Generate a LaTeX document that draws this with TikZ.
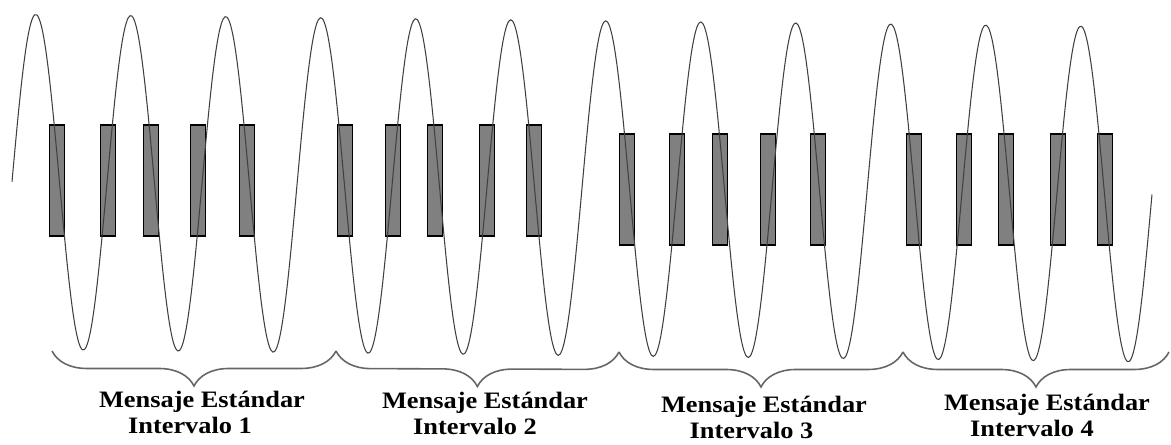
\documentclass[tikz,border=0pt]{standalone}
\usepackage{fontspec}
\setmainfont{Liberation Serif}
\newfontfamily\lblfont{Liberation Serif}[FakeStretch=1.12]
\usepackage{tikz}
\usetikzlibrary{decorations.pathreplacing, positioning}

\begin{document}
\begin{tikzpicture}[x=0.02cm, y=-0.02cm,
    bar/.style={draw=black, fill=gray, line width=0.6pt, minimum width=0.29cm, minimum height=2.22cm, inner sep=0pt},
    wave/.style={black!75, line width=0.6pt},
    brc/.style={decorate, decoration={brace, mirror, amplitude=0.7cm}, black!60, line width=0.9pt},
    lbl/.style={align=center, anchor=north, inner sep=0pt, font=\lblfont\bfseries\fontsize{13.4}{14.8}\selectfont}
]
    \useasboundingbox (0,0) rectangle (1171,445);

    % Pulses
    \foreach \i/\x in {1/57, 2/108, 3/151, 4/198, 5/247}
        \node[bar] (a\i) at (\x, 180.5) {};
    \foreach \i/\x in {1/345, 2/393, 3/435, 4/487, 5/534}
        \node[bar] (b\i) at (\x, 180.5) {};
    \foreach \i/\x in {1/627, 2/677, 3/720, 4/768, 5/818}
        \node[bar] (c\i) at (\x, 189.5) {};
    \foreach \i/\x in {1/914, 2/964, 3/1006, 4/1058, 5/1105}
        \node[bar] (d\i) at (\x, 189.5) {};

    % Carrier
    \draw[wave] plot[domain=12:1152, samples=600, smooth]
        (\x, {182+0.0112*(\x-37)-167.5*sin(3.78947*(\x-12))});

    % Braces
    \coordinate (e0) at (52, 351);
    \coordinate (e1) at (336, 351);
    \coordinate (e2) at (619, 352);
    \coordinate (e3) at (903, 352);
    \coordinate (e4) at (1169, 352);
    \draw[brc] (e0) -- (e1);
    \draw[brc] (e1) -- (e2);
    \draw[brc] (e2) -- (e3);
    \draw[brc] (e3) -- (e4);

    % Labels
    \node[lbl] (m1) at (202, 391) {Mensaje Estándar\\Intervalo 1\hspace*{0.48cm}};
    \node[lbl] (m2) at (485, 392) {Mensaje Estándar\\Intervalo 2\hspace*{0.4cm}};
    \node[lbl] (m3) at (764, 396) {Mensaje Estándar\\Intervalo 3\hspace*{0.5cm}};
    \node[lbl] (m4) at (1047, 394) {Mensaje Estándar\\Intervalo 4\hspace*{0.6cm}};
\end{tikzpicture}
\end{document}
